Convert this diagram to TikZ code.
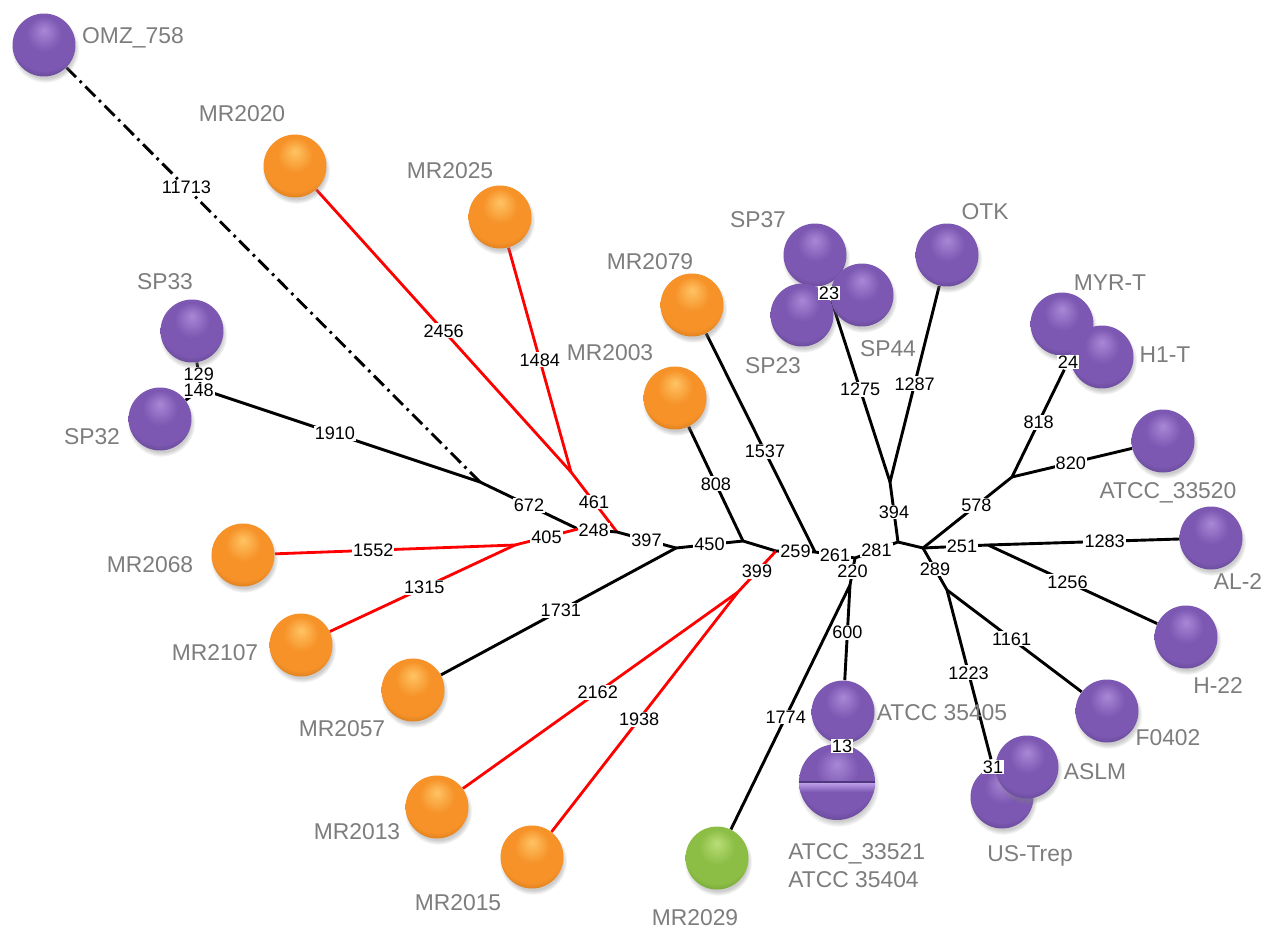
\documentclass[tikz,border=0pt]{standalone}
\usepackage{fontspec}
\setmainfont{Liberation Sans}
\usetikzlibrary{shadows}
\definecolor{pHi}{RGB}{168,136,214}
\definecolor{pMid}{RGB}{124,88,178}
\definecolor{pLo}{RGB}{80,56,124}
\definecolor{pBand}{RGB}{196,166,240}
\definecolor{oHi}{RGB}{255,196,100}
\definecolor{oMid}{RGB}{246,146,40}
\definecolor{oLo}{RGB}{192,104,20}
\definecolor{gHi}{RGB}{186,222,120}
\definecolor{gMid}{RGB}{140,190,70}
\definecolor{gLo}{RGB}{94,142,40}
\definecolor{lgray}{RGB}{125,125,125}
\pgfdeclareradialshading{pball}{\pgfpoint{0bp}{12bp}}{color(0bp)=(pHi);color(14bp)=(pMid);color(26bp)=(pMid);color(36bp)=(pLo);color(50bp)=(pLo)}
\pgfdeclareradialshading{oball}{\pgfpoint{0bp}{12bp}}{color(0bp)=(oHi);color(14bp)=(oMid);color(26bp)=(oMid);color(36bp)=(oLo);color(50bp)=(oLo)}
\pgfdeclareradialshading{gball}{\pgfpoint{0bp}{12bp}}{color(0bp)=(gHi);color(14bp)=(gMid);color(26bp)=(gMid);color(36bp)=(gLo);color(50bp)=(gLo)}
\pgfdeclarelayer{back}
\pgfdeclarelayer{bg}
\pgfsetlayers{back,bg,main}
\tikzset{
  x=0.02cm, y=-0.02cm,
  ball/.style={circle, minimum size=1.26cm, inner sep=0pt,
    circular drop shadow={shadow xshift=0.6pt, shadow yshift=-2pt, shadow scale=1.08, opacity=0.4}},
  pb/.style={ball, shading=pball},
  ob/.style={ball, shading=oball},
  gb/.style={ball, shading=gball},
  nm/.style={text=lgray, font=\fontsize{13}{15.9}\selectfont, inner sep=0pt},
  elab/.style={fill=white, inner sep=0.6pt, font=\fontsize{10.3}{12}\selectfont, text=black},
  bl/.style={line width=1.65pt, black},
  rl/.style={line width=1.6pt, red},
  dd/.style={line width=1.65pt, black, dash pattern=on 8pt off 3pt on 1.5pt off 3pt},
}
\begin{document}
\begin{tikzpicture}
\useasboundingbox (0,0) rectangle (1274,933);
\begin{pgfonlayer}{back}
\fill[white] (0,0) rectangle (1274,933);
\end{pgfonlayer}
% junctions
\coordinate (A) at (480,482);
\coordinate (B) at (201,389);
\coordinate (C) at (578,529);
\coordinate (D) at (617,532);
\coordinate (E) at (676,548);
\coordinate (F) at (515,545);
\coordinate (G) at (571,472);
\coordinate (H) at (743,541);
\coordinate (I) at (776,551);
\coordinate (J) at (815,552);
\coordinate (K) at (855,558);
\coordinate (L) at (850,585);
\coordinate (M) at (898,542);
\coordinate (N) at (890,482);
\coordinate (O) at (923,548);
\coordinate (P) at (988,545);
\coordinate (Q) at (1012,477);
\coordinate (R) at (947,590);
\coordinate (T) at (738,592);
% balls
\node[pb] (omz) at (44,45) {};
\node[ob] (mr2020) at (295,166) {};
\node[ob] (mr2025) at (500,217) {};
\node[pb] (sp33) at (192,331) {};
\node[pb] (sp32) at (160,419) {};
\node[ob] (mr2068) at (243,555) {};
\node[ob] (mr2107) at (301,645) {};
\node[ob] (mr2057) at (413,690) {};
\node[ob] (mr2013) at (437,807) {};
\node[ob] (mr2015) at (532,857) {};
\node[gb] (mr2029) at (717,858) {};
\node[ob] (mr2079) at (692,305) {};
\node[ob] (mr2003) at (675,398) {};
\node[pb] (sp37) at (815,255) {};
\node[pb] (sp44) at (862,295) {};
\node[pb] (sp23) at (802,315) {};
\node[pb] (otk) at (947,255) {};
\node[pb] (myrt) at (1062,324) {};
\node[pb] (h1t) at (1102,357) {};
\node[pb] (atcc33520) at (1163,441) {};
\node[pb] (al2) at (1211,538) {};
\node[pb] (h22) at (1186,637) {};
\node[pb] (f0402) at (1107,711) {};
\node[pb] (ustrep) at (1002,797) {};
\node[pb] (aslm) at (1027,767) {};
\node[pb] (atcc35405) at (843,712) {};
\node[pb, minimum size=1.52cm] (atcc33521) at (837,782) {};
\begin{scope}
  \clip (atcc33521.center) circle (0.76cm);
  \shade[top color=pBand, bottom color=pMid] ([xshift=-1cm]atcc33521.center) rectangle ([xshift=1cm,yshift=-0.2cm]atcc33521.center);
  \draw[pLo, line width=0.8pt] ([xshift=-1cm]atcc33521.center) -- ([xshift=1cm]atcc33521.center);
\end{scope}
% overlay labels
\node[elab] (l23) at (829,293) {23};
\node[elab] (l24) at (1068,362) {24};
\node[elab] (l13) at (842,746) {13};
\node[elab] (l31) at (993,767) {31};
% names
\node[nm] at (133,38) {OMZ\_758};
\node[nm] at (242,114) {MR2020};
\node[nm] at (450,171) {MR2025};
\node[nm] at (165,282) {SP33};
\node[nm] at (92,437) {SP32};
\node[nm] at (150,565) {MR2068};
\node[nm] at (215,653) {MR2107};
\node[nm] at (342,729) {MR2057};
\node[nm] at (357,832) {MR2013};
\node[nm] at (458,903) {MR2015};
\node[nm] at (695,918) {MR2029};
\node[nm] at (650,262) {MR2079};
\node[nm] at (610,353) {MR2003};
\node[nm] at (758,220) {SP37};
\node[nm] at (888,349) {SP44};
\node[nm] at (773,366) {SP23};
\node[nm] at (985,212) {OTK};
\node[nm] at (1110,283) {MYR-T};
\node[nm] at (1165,355) {H1-T};
\node[nm] at (1168,493) {ATCC\_33520};
\node[nm] at (1238,582) {AL-2};
\node[nm] at (1218,686) {H-22};
\node[nm] at (1168,738) {F0402};
\node[nm] at (1095,772) {ASLM};
\node[nm] at (1030,856) {US-Trep};
\node[nm] at (942,713) {ATCC 35405};
\node[nm, align=left, anchor=west] at (788,866) {ATCC\_33521\\ATCC 35404};
% edges
\begin{pgfonlayer}{bg}
\draw[dd] (A) -- node[elab,pos=0.71]{11713} (omz);
\draw[bl] (B) -- node[elab,pos=0.48]{1910} (A);
\draw[bl] (sp33) -- node[elab,pos=0.45]{129} (B);
\draw[bl] (B) -- node[elab,pos=0.15]{148} (sp32);
\draw[bl] (A) -- node[elab]{672} (C);
\draw[rl] (G) -- node[elab]{461} (D);
\draw[bl] (C) -- node[elab,pos=0.4]{248} (D);
\draw[rl] (F) -- node[elab]{405} (C);
\draw[rl] (F) -- node[elab,pos=0.59]{1552} (mr2068);
\draw[rl] (F) -- node[elab,pos=0.49]{1315} (mr2107);
\draw[rl] (G) -- node[elab]{2456} (mr2020);
\draw[rl] (G) -- node[elab]{1484} (mr2025);
\draw[bl] (D) -- node[elab]{397} (E);
\draw[bl] (E) -- node[elab,pos=0.49]{1731} (mr2057);
\draw[bl] (E) -- node[elab]{450} (H);
\draw[bl] (H) -- node[elab]{808} (mr2003);
\draw[bl] (H) -- (I);
\draw[rl] (I) -- node[elab]{399} (T);
\draw[bl] (I) -- node[elab]{259} (J);
\draw[rl] (T) -- node[elab,pos=0.51]{2162} (mr2013);
\draw[rl] (T) -- node[elab,pos=0.53]{1938} (mr2015);
\draw[bl] (J) -- node[elab,pos=0.46]{1537} (mr2079);
\draw[bl] (J) -- node[elab]{261} (K);
\draw[bl] (L) -- node[elab]{600} (atcc35405);
\draw[bl] (L) -- node[elab,pos=0.54]{1774} (mr2029);
\draw[bl] (K) -- node[elab]{220} (L);
\draw[bl] (M) -- node[elab]{394} (N);
\draw[bl] (K) -- node[elab]{281} (M);
\draw[bl] (N) -- node[elab,pos=0.51]{1275} (l23);
\draw[bl] (N) -- node[elab]{1287} (otk);
\draw[bl] (M) -- (O);
\draw[bl] (O) -- node[elab,pos=0.6]{578} (Q);
\draw[bl] (Q) -- node[elab,pos=0.51]{818} (l24);
\draw[bl] (Q) -- node[elab,pos=0.49]{820} (atcc33520);
\draw[bl] (P) -- node[elab,pos=0.61]{1283} (al2);
\draw[bl] (P) -- node[elab,pos=0.47]{1256} (h22);
\draw[bl] (O) -- node[elab,pos=0.6]{251} (P);
\draw[bl] (R) -- node[elab,pos=0.48]{1161} (f0402);
\draw[bl] (R) -- node[elab,pos=0.49]{1223} (l31);
\draw[bl] (O) -- node[elab]{289} (R);
\end{pgfonlayer}
\end{tikzpicture}
\end{document}
